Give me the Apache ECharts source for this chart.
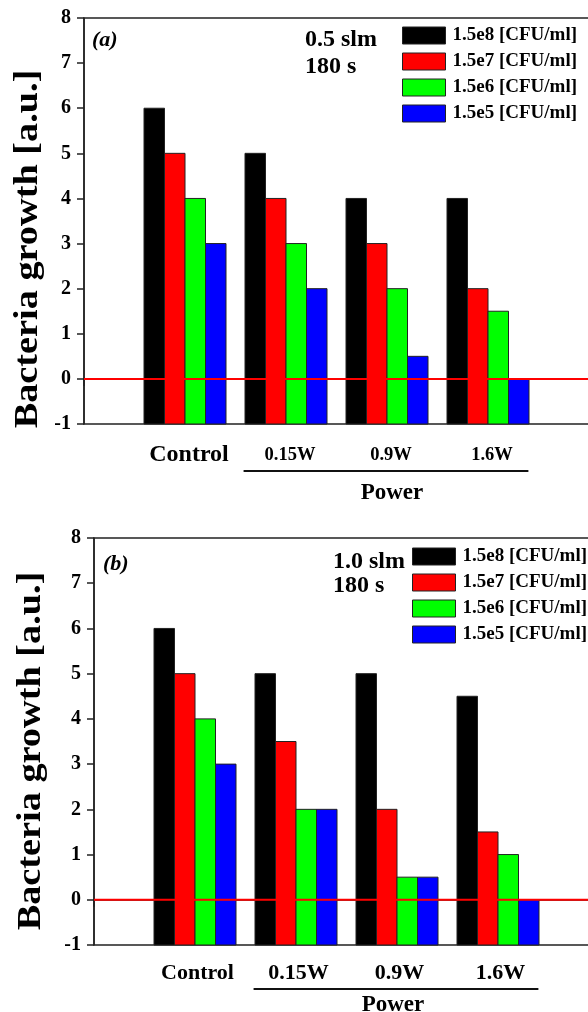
<!DOCTYPE html>
<html><head><meta charset="utf-8">
<script src="https://cdn.jsdelivr.net/npm/echarts@6/dist/echarts.min.js"></script>
<style>html,body{margin:0;padding:0;background:#fff}#c{width:588px;height:1012px}</style>
</head><body><div id="c"></div>
<script>
const categories = ['', 'Control', '0.15W', '0.9W', '1.6W', ''];
const seriesNames = ['1.5e8 [CFU/ml]', '1.5e7 [CFU/ml]', '1.5e6 [CFU/ml]', '1.5e5 [CFU/ml]'];
const colors = ['#000000', '#ff0000', '#00ff00', '#0000ff'];
// panel (a): 0.5 slm, 180 s
const a_e8 = [null, 6, 5, 4, 4, null];
const a_e7 = [null, 5, 4, 3, 2, null];
const a_e6 = [null, 4, 3, 2, 1.5, null];
const a_e5 = [null, 3, 2, 0.5, 0, null];
// panel (b): 1.0 slm, 180 s
const b_e8 = [null, 6, 5, 5, 4.5, null];
const b_e7 = [null, 5, 3.5, 2, 1.5, null];
const b_e6 = [null, 4, 2, 0.5, 1, null];
const b_e5 = [null, 3, 2, 0.5, 0, null];
const zeroLine = [0, 0, 0, 0, 0, 0];
const yMin = -1, yMax = 8, yStep = 1;

const FONT = '"Liberation Serif", "Times New Roman", serif';
const chart = echarts.init(document.getElementById('c'), null, {renderer: 'canvas'});

function xAxisFor(i) {
  const lab = i === 0 ? {
    interval: 0, margin: 19, color: '#000', fontFamily: FONT, fontWeight: 'bold',
    formatter: v => v === '' ? '' : (v === 'Control' ? '{big|' + v + '}' : '{small|' + v + '}'),
    rich: {
      big: {fontSize: 24, fontWeight: 'bold', fontFamily: FONT, color: '#000', lineHeight: 24, padding: [0, 0, 0, 8]},
      small: {fontSize: 18.5, fontWeight: 'bold', fontFamily: FONT, color: '#000', lineHeight: 24, padding: [0, 0, 0, 8]}
    }
  } : {interval: 0, margin: 17, color: '#000', fontFamily: FONT, fontWeight: 'bold', fontSize: 22, lineHeight: 22,
       formatter: v => v === '' ? '' : '{n|' + v + '}',
       rich: {n: {fontSize: 22, fontWeight: 'bold', fontFamily: FONT, color: '#000', lineHeight: 22, padding: [0, 0, 0, 5]}}};
  return {
    type: 'category', gridIndex: i, data: categories, boundaryGap: false,
    axisLine: {show: true, lineStyle: {color: '#222', width: 1.5}},
    axisTick: {show: true, interval: 0, length: 7, lineStyle: {color: '#222', width: 1.5}},
    axisLabel: lab, splitLine: {show: false}
  };
}
function yAxisFor(i) {
  return {
    type: 'value', gridIndex: i, min: yMin, max: yMax, interval: yStep,
    axisLine: {show: true, lineStyle: {color: '#222', width: 1.5}},
    axisTick: {show: true, length: 7, lineStyle: {color: '#222', width: 1.5}},
    axisLabel: {margin: 13, color: '#000', fontFamily: FONT, fontWeight: 'bold', fontSize: 20},
    splitLine: {show: false}
  };
}
const BAR_W = 20.5;
function barsFor(i, arrs) {
  return arrs.map((d, k) => ({
    name: seriesNames[k], type: 'custom', xAxisIndex: i, yAxisIndex: i,
    data: d.map((v, j) => [j, v]).filter(p => p[1] !== null),
    encode: {x: 0, y: 1},
    itemStyle: {color: colors[k], borderColor: '#222', borderWidth: 1},
    emphasis: {disabled: true}, silent: true, z: 2,
    renderItem: (params, api) => {
      const cx = api.value(0), v = api.value(1);
      const base = api.coord([cx, yMin]);
      const top = api.coord([cx, v]);
      const x0 = base[0] + (k - 2) * BAR_W;
      return {
        type: 'rect',
        shape: {x: x0, y: top[1], width: BAR_W, height: base[1] - top[1]},
        style: {fill: colors[k], stroke: '#222', lineWidth: 1}
      };
    }
  }));
}
const series = [
  ...barsFor(0, [a_e8, a_e7, a_e6, a_e5]),
  ...barsFor(1, [b_e8, b_e7, b_e6, b_e5]),
  {type: 'line', xAxisIndex: 0, yAxisIndex: 0, data: zeroLine, symbol: 'none', z: 5, silent: true,
   lineStyle: {color: '#ff0000', width: 2}},
  {type: 'line', xAxisIndex: 1, yAxisIndex: 1, data: zeroLine, symbol: 'none', z: 5, silent: true,
   lineStyle: {color: '#ff0000', width: 2}}
];
function legendFor(left, top) {
  return {
    data: seriesNames, orient: 'vertical', left: left, top: top, padding: 0,
    itemWidth: 43, itemHeight: 17, itemGap: 7, icon: 'rect',
    itemStyle: {borderColor: '#222', borderWidth: 1},
    textStyle: {fontFamily: FONT, fontWeight: 'bold', fontSize: 19, color: '#000', padding: [0, 0, 0, 2]},
    selectedMode: false
  };
}
chart.setOption({
  animation: false,
  grid: [
    {left: 84, top: 18, width: 505, height: 406, show: true, borderColor: '#222', borderWidth: 1.5, backgroundColor: 'transparent', outerBoundsMode: 'none', containLabel: false},
    {left: 94, top: 538, width: 505, height: 407, show: true, borderColor: '#222', borderWidth: 1.5, backgroundColor: 'transparent', outerBoundsMode: 'none', containLabel: false}
  ],
  legend: [legendFor(402, 26), legendFor(412, 547)],
  xAxis: [xAxisFor(0), xAxisFor(1)],
  yAxis: [yAxisFor(0), yAxisFor(1)],
  series: series
});

// annotations
function txt(x, y, s, size, extra) {
  return Object.assign({type: 'text', x: x, y: y, silent: true,
    style: Object.assign({text: s, fontFamily: FONT, fontWeight: 'bold', fontSize: size, fill: '#000', verticalAlign: 'middle', align: 'left'}, extra || {})});
}
const g = [];
const panels = [
  {tag: '(a)', tagX: 92, tagY: 40, c1: '0.5 slm', c2: '180 s', cx: 305, cy1: 40, cy2: 67, ytx: 28, yty: 249, pwDx: 5, pwDy: 22},
  {tag: '(b)', tagX: 103, tagY: 564, c1: '1.0 slm', c2: '180 s', cx: 333, cy1: 562, cy2: 586, ytx: 31, yty: 751, pwDx: -4, pwDy: 16}
];
panels.forEach((p, i) => {
  g.push(txt(p.tagX, p.tagY, p.tag, 22, {fontStyle: 'italic'}));
  g.push(txt(p.cx, p.cy1, p.c1, 24));
  g.push(txt(p.cx, p.cy2, p.c2, 24));
  g.push({type: 'text', x: p.ytx, y: p.yty, rotation: Math.PI / 2, scaleX: 1.16, silent: true,
    style: {text: 'Bacteria growth [a.u.]', fontFamily: FONT, fontWeight: 'bold', fontSize: 33, fill: '#000', align: 'center', verticalAlign: 'middle'}});
  const p1 = chart.convertToPixel({xAxisIndex: i, yAxisIndex: i}, [2, yMin]);
  const p2 = chart.convertToPixel({xAxisIndex: i, yAxisIndex: i}, [4, yMin]);
  const band = (p2[0] - p1[0]) / 2;
  const ly = p1[1] + (i === 0 ? 47 : 44);
  g.push({type: 'line', silent: true, shape: {x1: p1[0] - 0.42 * band, y1: ly, x2: p2[0] + 0.4 * band, y2: ly},
    style: {stroke: '#111', lineWidth: 2}});
  g.push(txt((p1[0] + p2[0]) / 2 + p.pwDx, ly + p.pwDy, 'Power', 23, {align: 'center'}));
});
chart.setOption({graphic: g});
</script></body></html>
